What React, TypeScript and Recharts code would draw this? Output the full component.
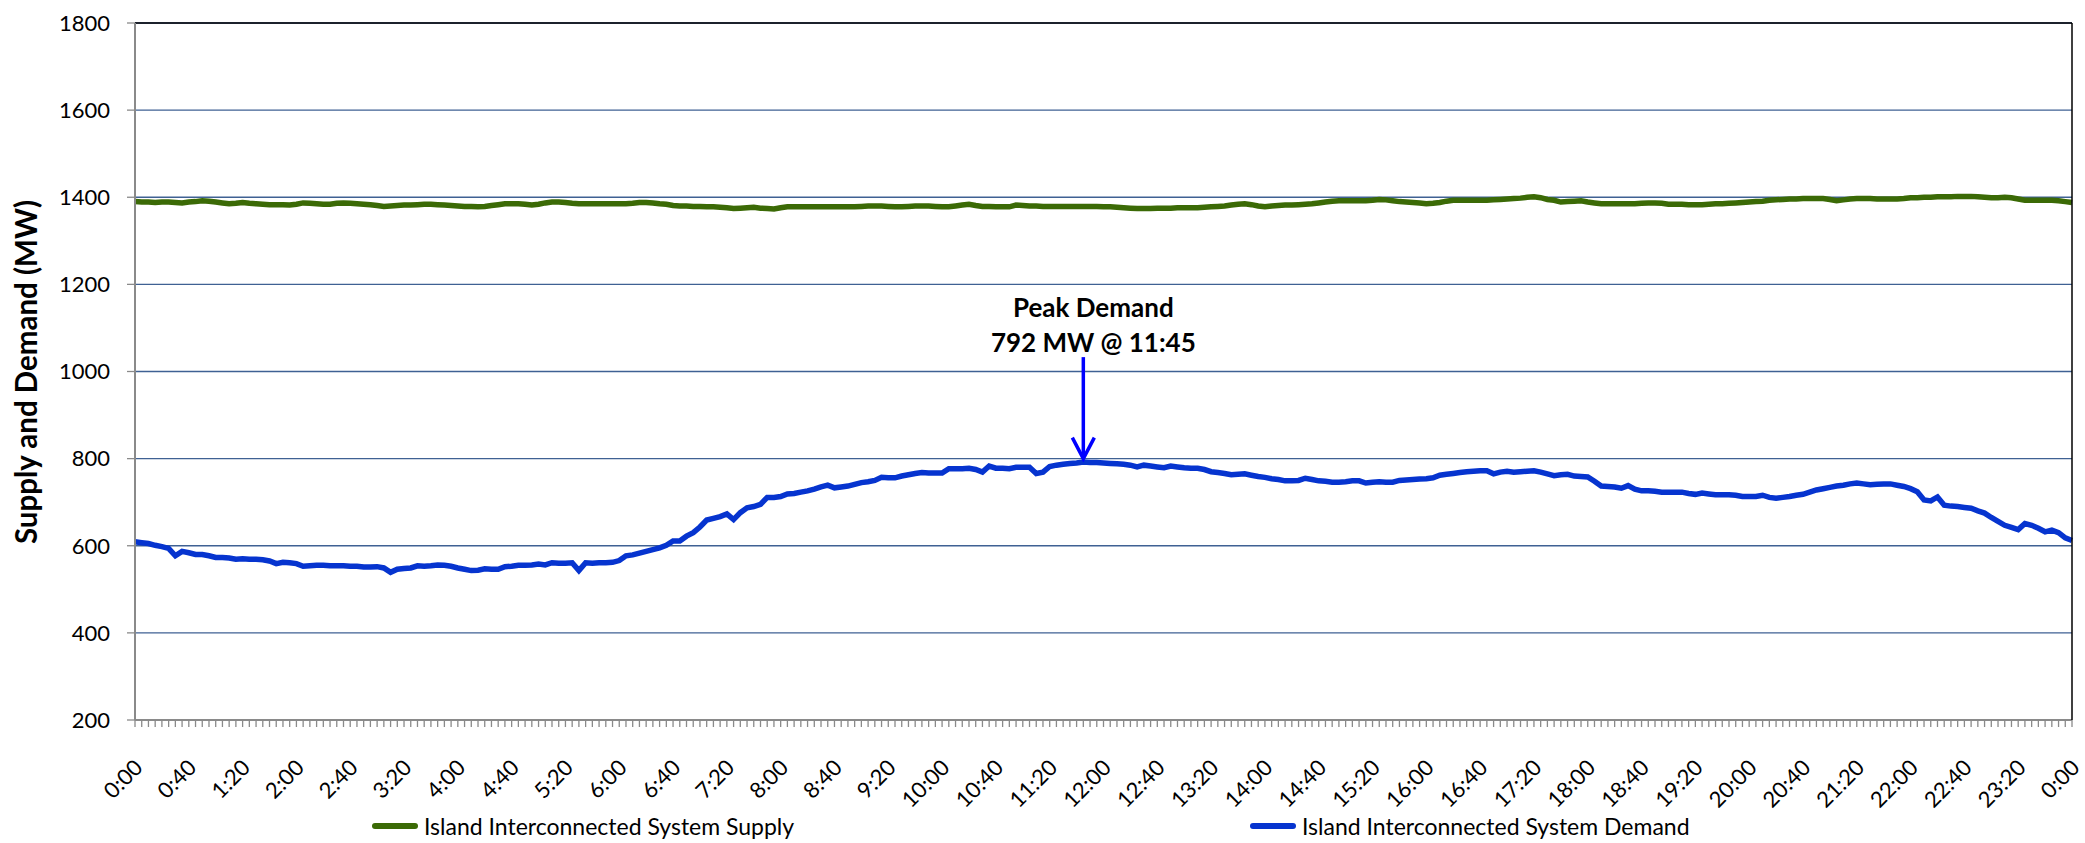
import { CartesianGrid, Line, LineChart, ReferenceLine, XAxis, YAxis } from "recharts";

// 5-minute samples, 0:00 through the following 0:00 (written as 24:00 so keys stay unique)
const times = Array.from({ length: 289 }, (_, i) => {
  const m = i * 5;
  return `${Math.floor(m / 60)}:${String(m % 60).padStart(2, "0")}`;
});

const supply = [
  1390, 1389, 1389, 1388, 1389, 1389, 1388, 1387, 1389, 1390, 1392, 1391,
  1389, 1387, 1385, 1386, 1388, 1386, 1385, 1384, 1383, 1383, 1383, 1382,
  1384, 1387, 1386, 1385, 1384, 1384, 1386, 1387, 1386, 1385, 1384, 1383,
  1381, 1379, 1380, 1381, 1382, 1382, 1383, 1384, 1384, 1383, 1382, 1381,
  1380, 1379, 1379, 1378, 1379, 1381, 1383, 1385, 1385, 1385, 1384, 1382,
  1384, 1387, 1389, 1389, 1388, 1386, 1385, 1385, 1385, 1385, 1385, 1385,
  1385, 1385, 1386, 1388, 1388, 1387, 1385, 1384, 1381, 1380, 1380, 1379,
  1379, 1378, 1378, 1377, 1376, 1374, 1375, 1376, 1377, 1375, 1374, 1373,
  1376, 1378, 1378, 1378, 1378, 1378, 1378, 1378, 1378, 1378, 1378, 1378,
  1379, 1380, 1380, 1380, 1379, 1378, 1378, 1379, 1380, 1380, 1380, 1379,
  1378, 1378, 1380, 1382, 1384, 1381, 1379, 1379, 1378, 1378, 1378, 1382,
  1381, 1380, 1380, 1379, 1379, 1379, 1379, 1379, 1379, 1379, 1379, 1379,
  1378, 1378, 1377, 1376, 1375, 1374, 1374, 1374, 1375, 1375, 1375, 1376,
  1376, 1376, 1376, 1377, 1378, 1379, 1380, 1382, 1384, 1385, 1383, 1380,
  1378, 1380, 1381, 1382, 1382, 1383, 1384, 1385, 1387, 1389, 1391, 1392,
  1392, 1392, 1392, 1392, 1393, 1395, 1394, 1392, 1390, 1389, 1388, 1387,
  1385, 1386, 1388, 1391, 1393, 1393, 1393, 1393, 1393, 1393, 1394, 1395,
  1396, 1397, 1398, 1400, 1401, 1399, 1395, 1393, 1389, 1390, 1391, 1392,
  1389, 1387, 1385, 1385, 1385, 1385, 1385, 1385, 1386, 1387, 1387, 1386,
  1384, 1384, 1384, 1383, 1383, 1383, 1384, 1385, 1385, 1386, 1387, 1388,
  1389, 1390, 1391, 1393, 1394, 1395, 1396, 1396, 1397, 1397, 1397, 1397,
  1395, 1392, 1394, 1396, 1397, 1397, 1397, 1396, 1396, 1396, 1396, 1397,
  1399, 1399, 1400, 1400, 1401, 1401, 1401, 1402, 1402, 1402, 1401, 1400,
  1399, 1399, 1400, 1399, 1396, 1393, 1393, 1393, 1393, 1393, 1392, 1390,
  1388,
];

const demand = [
  609, 607, 605, 601, 598, 594, 577, 587, 584, 580, 580, 577,
  573, 573, 572, 569, 570, 569, 569, 568, 565, 559, 562, 561,
  559, 553, 554, 555, 555, 554, 554, 554, 553, 553, 551, 551,
  552, 549, 539, 546, 548, 549, 554, 553, 554, 556, 555, 553,
  549, 546, 543, 544, 547, 546, 546, 552, 553, 555, 555, 556,
  558, 556, 561, 560, 560, 561, 543, 561, 560, 561, 561, 562,
  566, 577, 579, 583, 587, 591, 595, 601, 611, 611, 622, 630,
  643, 659, 663, 667, 673, 660, 676, 687, 690, 695, 711, 711,
  713, 719, 720, 723, 726, 730, 735, 739, 733, 735, 737, 741,
  745, 747, 750, 757, 756, 756, 760, 763, 766, 768, 767, 767,
  767, 777, 777, 777, 778, 775, 769, 783, 778, 778, 777, 780,
  780, 780, 766, 769, 782, 785, 787, 789, 790, 792, 791, 791,
  790, 789, 788, 787, 785, 781, 785, 783, 781, 779, 783, 781,
  779, 778, 778, 775, 770, 768, 766, 763, 764, 765, 762, 759,
  757, 754, 752, 749, 749, 750, 755, 752, 749, 748, 746, 746,
  747, 749, 749, 744, 746, 747, 746, 746, 750, 751, 752, 753,
  754, 756, 762, 764, 766, 768, 770, 771, 772, 772, 765, 769,
  771, 769, 770, 771, 772, 769, 765, 761, 763, 764, 760, 759,
  758, 748, 737, 736, 735, 732, 738, 730, 726, 726, 725, 723,
  723, 723, 723, 720, 718, 721, 719, 717, 717, 717, 716, 713,
  713, 713, 716, 711, 709, 711, 713, 716, 718, 723, 728, 731,
  734, 737, 739, 742, 744, 742, 740, 741, 742, 742, 739, 736,
  731, 724, 705, 703, 712, 693, 691, 690, 688, 686, 680, 675,
  665, 656, 647, 642, 637, 651, 647, 640, 632, 636, 630, 618,
  612,
];

const yTicks = [200, 400, 600, 800, 1000, 1200, 1400, 1600, 1800];
const peakTime = "11:45";
const peakValue = 792;

const data = times.map((time, i) => ({ time, supply: supply[i], demand: demand[i] }));

const FONT = "Lato, 'Open Sans', sans-serif";
const GREEN = "#3b6a06";
const BLUE = "#0634cf";

function TimeTick(props: any) {
  const { x, y, payload, index } = props;
  if (index % 8 !== 0) return null;
  const label = payload.value === "24:00" ? "0:00" : payload.value;
  const ax = x + 9;
  const ay = y + 40;
  return (
    <text x={ax} y={ay} transform={`rotate(-45, ${ax}, ${ay})`} textAnchor="end" fontSize={22} fontFamily={FONT} fill="#000">
      {label}
    </text>
  );
}

function YTitle() {
  const x = 37;
  const y = 372;
  return (
    <text x={x} y={y} transform={`rotate(-90, ${x}, ${y})`} textAnchor="middle" fontSize={29.5} fontWeight="bold" fontFamily={FONT} fill="#000">
      Supply and Demand (MW)
    </text>
  );
}

function PeakArrow(props: any) {
  const { x1, y1, x2, y2 } = props;
  return (
    <g>
      <line x1={x1} y1={y1} x2={x2} y2={y2 - 2} stroke="#0000ff" strokeWidth={3.5} />
      <polyline points={`${x2 - 11},${y2 - 21} ${x2},${y2} ${x2 + 11},${y2 - 21}`} fill="none" stroke="#0000ff" strokeWidth={3.5} />
      <text x={x1 + 10} y={y1 - 40} textAnchor="middle" fontSize={26} fontWeight="bold" fontFamily={FONT} fill="#000">
        Peak Demand
      </text>
      <text x={x1 + 10} y={y1 - 5} textAnchor="middle" fontSize={26} fontWeight="bold" fontFamily={FONT} fill="#000">
        {`${peakValue} MW @ ${peakTime}`}
      </text>
    </g>
  );
}

export default function App() {
  return (
    <div style={{ position: "absolute", left: 0, top: 0, width: 2085, height: 843, background: "#fff" }}>
      <LineChart width={2085} height={843} data={data} margin={{ top: 23, right: 11, left: 0, bottom: 0 }}>
        <CartesianGrid vertical={false} stroke="#3f6193" strokeWidth={1.3} />
        <XAxis
          dataKey="time"
          interval={0}
          height={123}
          tick={<TimeTick />}
          tickSize={7}
          tickMargin={2}
          tickLine={{ stroke: "#8a8a8a", strokeWidth: 1.3 }}
          axisLine={{ stroke: "#8a8a8a", strokeWidth: 2 }}
        />
        <YAxis
          domain={[200, 1800]}
          ticks={yTicks}
          width={135}
          tickSize={8}
          tickMargin={17}
          tick={{ fontSize: 22, fontFamily: FONT, fill: "#000" }}
          tickLine={{ stroke: "#8a8a8a", strokeWidth: 1.3 }}
          axisLine={{ stroke: "#8a8a8a", strokeWidth: 2 }}
          label={<YTitle />}
        />
        <YAxis
          yAxisId="frame"
          orientation="right"
          domain={[200, 1800]}
          width={2}
          tick={false}
          tickLine={false}
          axisLine={{ stroke: "#000", strokeWidth: 1.5 }}
        />
        <ReferenceLine y={1800} stroke="#000" strokeWidth={1.5} />
        <Line type="linear" dataKey="supply" stroke={GREEN} strokeWidth={5.5} dot={false} isAnimationActive={false} />
        <Line type="linear" dataKey="demand" stroke={BLUE} strokeWidth={5.5} dot={false} isAnimationActive={false} />
        <ReferenceLine
          segment={[
            { x: peakTime, y: 1033 },
            { x: peakTime, y: 800 },
          ]}
          shape={<PeakArrow />}
        />
      </LineChart>
      <div style={{ position: "absolute", left: 372, top: 812, display: "flex", alignItems: "center", fontFamily: FONT, fontSize: 23 }}>
        <span style={{ display: "inline-block", width: 46, height: 6, borderRadius: 3, background: GREEN, marginRight: 6 }} />
        <span>Island Interconnected System Supply</span>
      </div>
      <div style={{ position: "absolute", left: 1250, top: 812, display: "flex", alignItems: "center", fontFamily: FONT, fontSize: 23 }}>
        <span style={{ display: "inline-block", width: 46, height: 6, borderRadius: 3, background: BLUE, marginRight: 6 }} />
        <span>Island Interconnected System Demand</span>
      </div>
    </div>
  );
}
